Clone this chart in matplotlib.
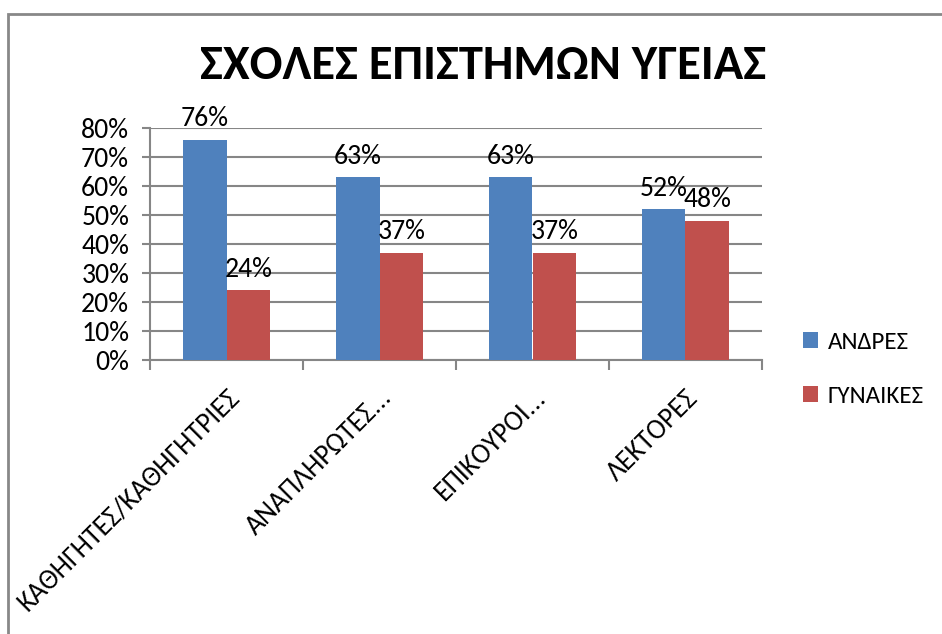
import matplotlib.pyplot as plt
import numpy as np
from matplotlib import font_manager
from matplotlib.patches import Rectangle

categories = ["ΚΑΘΗΓΗΤΕΣ/ΚΑΘΗΓΗΤΡΙΕΣ", "ΑΝΑΠΛΗΡΩΤΕΣ...", "ΕΠΙΚΟΥΡΟΙ...", "ΛΕΚΤΟΡΕΣ"]
men = [76, 63, 63, 52]
women = [24, 37, 37, 48]
series_names = ["ΑΝΔΡΕΣ", "ΓΥΝΑΙΚΕΣ"]
y_ticks = [0, 10, 20, 30, 40, 50, 60, 70, 80]

available = {f.name for f in font_manager.fontManager.ttflist}
family = "Noto Sans"
for name in ["Carlito", "Liberation Sans Narrow", "Noto Sans"]:
    if name in available:
        family = name
        break
plt.rcParams['font.family'] = [family, 'DejaVu Sans']

blue = '#4F81BD'
red = '#C0504D'
grid_col = '#868686'

fig = plt.figure(figsize=(9.42, 6.34), dpi=100)
fig.patches.append(Rectangle((8 / 942, -0.1), 1.2, 1.1 - 14 / 634, transform=fig.transFigure,
                             fill=False, edgecolor='#888888', linewidth=2))

ax = fig.add_axes([150 / 942, 1 - 360 / 634, 612 / 942, 232 / 634])
x = np.arange(len(categories))
w = 0.287
b1 = ax.bar(x - w / 2, men, w, color=blue, label=series_names[0], zorder=3)
b2 = ax.bar(x + w / 2, women, w, color=red, label=series_names[1], zorder=3)

for bars, vals in [(b1, men), (b2, women)]:
    for rect, v in zip(bars, vals):
        ax.annotate(f"{v}%", (rect.get_x() + rect.get_width() / 2, v),
                    xytext=(0, 6), textcoords='offset points',
                    ha='center', va='bottom', fontsize=20)

ax.set_xlim(-0.5, len(categories) - 0.5)
ax.set_ylim(0, 80)
ax.set_yticks(y_ticks)
ax.set_yticklabels([f"{t}%" for t in y_ticks], fontsize=20)
ax.yaxis.grid(True, color=grid_col, linewidth=1.5, zorder=0)
ax.set_xticks(x)
ax.set_xticklabels(categories, rotation=45, ha='right', va='top',
                   rotation_mode='anchor', fontsize=20)
ax.set_xticks(np.arange(-0.5, len(categories)), minor=True)
ax.tick_params(axis='x', which='major', length=0, pad=18)
ax.tick_params(axis='x', which='minor', length=7, color=grid_col, width=1.5)
ax.tick_params(axis='y', length=6, color=grid_col, width=1.5, pad=9)
for s in ['top', 'right']:
    ax.spines[s].set_visible(False)
for s in ['left', 'bottom']:
    ax.spines[s].set_color(grid_col)
    ax.spines[s].set_linewidth(1.5)

fig.text(483 / 942, 1 - 66 / 634, "ΣΧΟΛΕΣ ΕΠΙΣΤΗΜΩΝ ΥΓΕΙΑΣ", ha='center', va='center',
         fontsize=35, fontweight='bold')

ax.legend(loc='center left', bbox_to_anchor=(1.03, -0.04), frameon=False,
          fontsize=18, handlelength=0.6, handleheight=0.6, labelspacing=1.3,
          handletextpad=0.4)

fig.savefig("out.png", dpi=100)
